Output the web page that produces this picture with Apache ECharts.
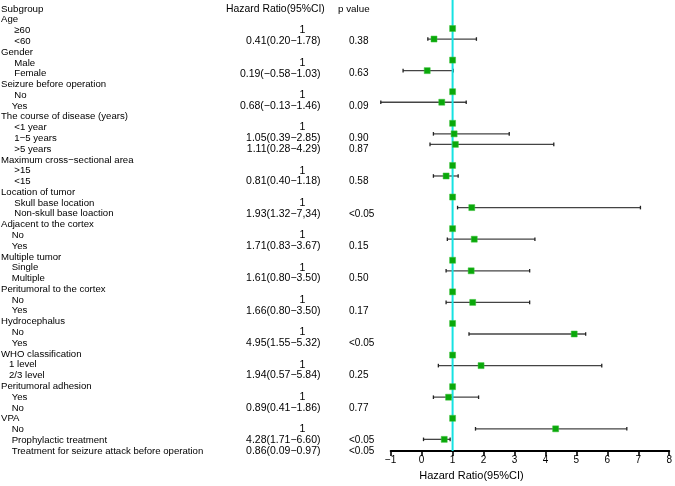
<!DOCTYPE html>
<html><head><meta charset="utf-8">
<script src="https://cdn.jsdelivr.net/npm/echarts@6/dist/echarts.min.js"></script>
<style>html,body{margin:0;padding:0;background:#fff}#c{width:675px;height:486px}</style>
</head><body><div id="c"></div>
<script>
const headers = ['Subgroup', 'Hazard Ratio(95%CI)', 'p value'];
const rowLabels = [
  'Age', '     ≥60', '     <60',
  'Gender', '     Male', '     Female',
  'Seizure before operation', '     No', '    Yes',
  'The course of disease (years)', '     <1 year', '     1−5 years', '     >5 years',
  'Maximum cross−sectional area', '     >15', '     <15',
  'Location of tumor', '     Skull base location', '     Non-skull base loaction',
  'Adjacent to the cortex', '    No', '    Yes',
  'Multiple tumor', '    Single', '    Multiple',
  'Peritumoral to the cortex', '    No', '    Yes',
  'Hydrocephalus', '    No', '    Yes',
  'WHO classification', '   1 level', '   2/3 level',
  'Peritumoral adhesion', '    Yes', '    No',
  'VPA', '    No', '    Prophylactic treatment', '    Treatment for seizure attack before operation'
];
const hrText = [
  '', '1', '0.41(0.20−1.78)',
  '', '1', '0.19(−0.58−1.03)',
  '', '1', '0.68(−0.13−1.46)',
  '', '1', '1.05(0.39−2.85)', '1.11(0.28−4.29)',
  '', '1', '0.81(0.40−1.18)',
  '', '1', '1.93(1.32−7,34)',
  '', '1', '1.71(0.83−3.67)',
  '', '1', '1.61(0.80−3.50)',
  '', '1', '1.66(0.80−3.50)',
  '', '1', '4.95(1.55−5.32)',
  '', '1', '1.94(0.57−5.84)',
  '', '1', '0.89(0.41−1.86)',
  '', '1', '4.28(1.71−6.60)', '0.86(0.09−0.97)'
];
const pText = [
  '', '', '0.38',
  '', '', '0.63',
  '', '', '0.09',
  '', '', '0.90', '0.87',
  '', '', '0.58',
  '', '', '<0.05',
  '', '', '0.15',
  '', '', '0.50',
  '', '', '0.17',
  '', '', '<0.05',
  '', '', '0.25',
  '', '', '0.77',
  '', '', '<0.05', '<0.05'
];
const estimate = [
  null, 1, 0.40,
  null, 1, 0.18,
  null, 1, 0.65,
  null, 1, 1.05, 1.09,
  null, 1, 0.79,
  null, 1, 1.62,
  null, 1, 1.70,
  null, 1, 1.60,
  null, 1, 1.65,
  null, 1, 4.93,
  null, 1, 1.92,
  null, 1, 0.87,
  null, 1, 4.33, 0.73
];
const lower = [
  null, null, 0.20,
  null, null, -0.60,
  null, null, -1.32,
  null, null, 0.38, 0.27,
  null, null, 0.38,
  null, null, 1.16,
  null, null, 0.83,
  null, null, 0.79,
  null, null, 0.79,
  null, null, 1.53,
  null, null, 0.54,
  null, null, 0.38,
  null, null, 1.74, 0.06
];
const upper = [
  null, null, 1.77,
  null, null, 1.02,
  null, null, 1.44,
  null, null, 2.83, 4.27,
  null, null, 1.18,
  null, null, 7.07,
  null, null, 3.66,
  null, null, 3.49,
  null, null, 3.49,
  null, null, 5.30,
  null, null, 5.82,
  null, null, 1.84,
  null, null, 6.63, 0.92
];
const xMin = -1, xMax = 8, xStep = 1;
const refLine = 1;
const axisTitle = 'Hazard Ratio(95%CI)';

const FONT = "'Liberation Sans', Arial, Helvetica, sans-serif";
const chart = echarts.init(document.getElementById('c'), null, {renderer: 'canvas'});

// text items: [x, row, text, align, fontSize]
const textItems = [];
textItems.push([1, 0, headers[0], 'left', 9.8]);
textItems.push([226, 0, headers[1], 'left', 10.4]);
textItems.push([338, 0, headers[2], 'left', 9.8]);
rowLabels.forEach((t, i) => { textItems.push([1, i + 1, t, 'left', 9.6]); });
hrText.forEach((t, i) => {
  if (!t) return;
  if (t === '1') textItems.push([302.5, i + 1, t, 'center', 10.5]);
  else textItems.push([320.5, i + 1, t, 'right', 10.5]);
});
pText.forEach((t, i) => { if (t) textItems.push([349, i + 1, t, 'left', 10]); });

const ciData = [];
lower.forEach((lo, i) => { if (lo !== null) ciData.push([lo, upper[i], i + 1]); });
const ptData = [];
estimate.forEach((e, i) => { if (e !== null) ptData.push([e, i + 1]); });

const GRID_H = 459;
chart.setOption({
  animation: false,
  backgroundColor: '#fff',
  grid: [
    {left: 0, right: 0, top: 0, height: GRID_H},
    {left: 390.7, width: 281.6, top: 0, height: GRID_H}
  ],
  xAxis: [
    {gridIndex: 0, type: 'value', min: 0, max: 675, show: false},
    {gridIndex: 1, type: 'value', min: xMin, max: xMax, interval: xStep,
     axisLine: {show: true, onZero: false, lineStyle: {color: '#000', width: 2}},
     axisTick: {show: true, length: 5, lineStyle: {color: '#000', width: 1.6}},
     axisLabel: {color: '#000', fontSize: 10, fontFamily: FONT, margin: 4,
                 formatter: v => String(v).replace('-', '\u2212')},
     splitLine: {show: false},
     name: axisTitle, nameLocation: 'middle', nameGap: 15,
     nameTextStyle: {color: '#000', fontSize: 11, fontFamily: FONT, padding: [0, 117, 0, 0]}
    }
  ],
  yAxis: [
    {gridIndex: 0, type: 'value', inverse: true, min: -0.835, max: 41.745, show: false},
    {gridIndex: 1, type: 'value', inverse: true, min: -0.705, max: 42.115, show: false}
  ],
  series: [
    {
      type: 'custom', xAxisIndex: 0, yAxisIndex: 0, data: textItems.map(d => [d[0], d[1]]),
      silent: true,
      renderItem(params, api) {
        const d = textItems[params.dataIndex];
        const p = api.coord([d[0], d[1]]);
        return {type: 'text', x: p[0], y: p[1],
          style: {text: d[2], fill: '#000', font: d[4] + 'px ' + FONT, align: d[3], verticalAlign: 'middle'}};
      }
    },
    {
      type: 'custom', xAxisIndex: 1, yAxisIndex: 1, data: ciData, clip: false, z: 2, silent: true,
      renderItem(params, api) {
        const a = api.coord([api.value(0), api.value(2)]);
        const b = api.coord([api.value(1), api.value(2)]);
        const st = {stroke: '#444', lineWidth: 1.3};
        return {type: 'group', children: [
          {type: 'line', shape: {x1: a[0], y1: a[1], x2: b[0], y2: b[1]}, style: st},
          {type: 'line', shape: {x1: a[0], y1: a[1] - 1.8, x2: a[0], y2: a[1] + 1.8}, style: {stroke: '#222', lineWidth: 1.3}},
          {type: 'line', shape: {x1: b[0], y1: b[1] - 1.8, x2: b[0], y2: b[1] + 1.8}, style: {stroke: '#222', lineWidth: 1.3}}
        ]};
      }
    },
    {
      type: 'custom', xAxisIndex: 1, yAxisIndex: 1, data: [[refLine]], z: 3, silent: true,
      renderItem(params, api) {
        const cs = params.coordSys;
        const x = api.coord([api.value(0), 0])[0];
        return {type: 'line', shape: {x1: x, y1: cs.y, x2: x, y2: cs.y + cs.height},
          style: {stroke: '#16E2E2', lineWidth: 2}};
      }
    },
    {
      type: 'scatter', xAxisIndex: 1, yAxisIndex: 1, data: ptData, z: 4, silent: true,
      symbol: 'rect', symbolSize: 6,
      itemStyle: {color: '#0AA80A', borderColor: '#3CC23C', borderWidth: 0.5, opacity: 1}
    }
  ]
});
</script>
</body></html>
